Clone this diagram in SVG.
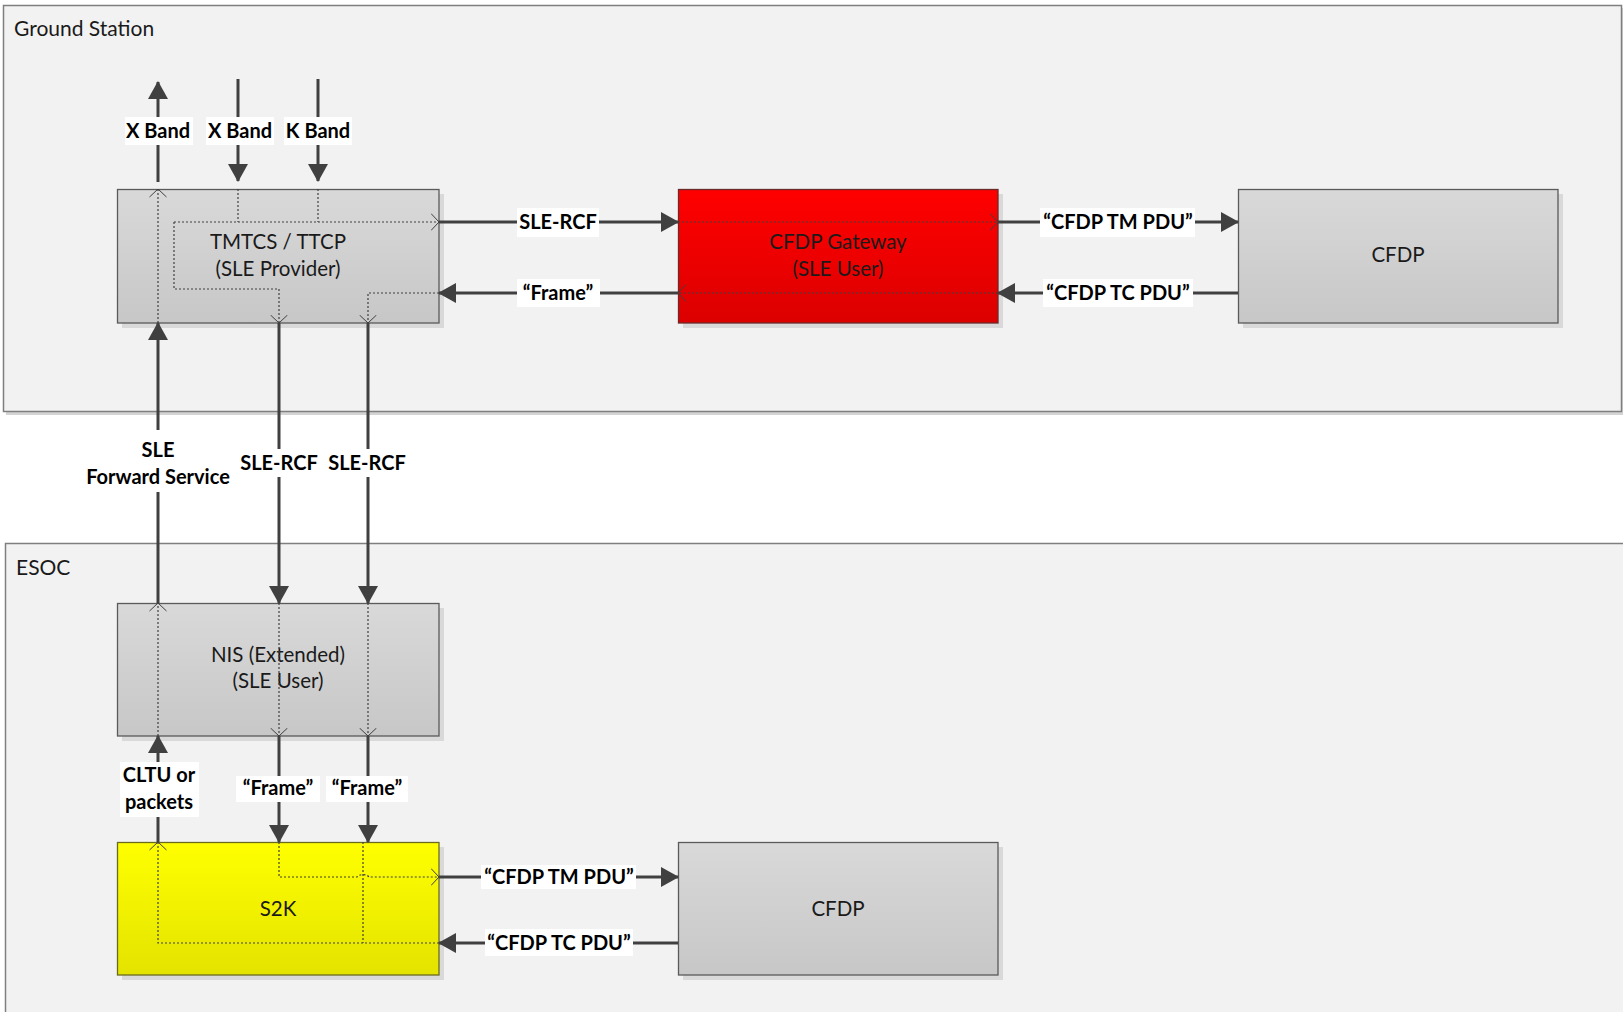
<svg xmlns="http://www.w3.org/2000/svg" width="1623" height="1012" viewBox="0 0 1623 1012">
  <style>
    .zone { fill: #f2f2f2; stroke: #7f7f7f; stroke-width: 1.5; }
    .zone-shadow { fill: #d4d4d4; }
    .zone-label { font-family: Lato, "Liberation Sans", sans-serif; font-size: 21px; fill: #1a1a1a; }
    .shadow { fill: #000; opacity: 0.1; }
    .box-gray { fill: url(#gGray); stroke: #5a5a5a; stroke-width: 1.3; }
    .box-red { fill: url(#gRed); stroke: #6b2a2a; stroke-width: 1.3; }
    .box-yellow { fill: url(#gYellow); stroke: #6b6b20; stroke-width: 1.3; }
    .node-text { font-family: Lato, "Liberation Sans", sans-serif; font-size: 20.5px; fill: #1a1a1a; text-anchor: middle; }
    .link { fill: none; stroke: #404040; stroke-width: 3; marker-end: url(#arrow); }
    .flow { fill: none; stroke: #404040; stroke-width: 1.2; stroke-dasharray: 2 2; }
    .flow-end { marker-end: url(#chevron); }
    .lbl-bg { fill: #ffffff; }
    .lbl { font-family: Lato, "Liberation Sans", sans-serif; font-size: 20px; font-weight: bold; fill: #000; text-anchor: middle; }
  </style>
  <defs>
    <linearGradient id="gGray" x1="0" y1="0" x2="0" y2="1">
      <stop offset="0" stop-color="#d9d9d9"/>
      <stop offset="1" stop-color="#c7c7c7"/>
    </linearGradient>
    <linearGradient id="gRed" x1="0" y1="0" x2="0" y2="1">
      <stop offset="0" stop-color="#ff0000"/>
      <stop offset="1" stop-color="#dc0000"/>
    </linearGradient>
    <linearGradient id="gYellow" x1="0" y1="0" x2="0" y2="1">
      <stop offset="0" stop-color="#ffff00"/>
      <stop offset="1" stop-color="#e3e300"/>
    </linearGradient>
    <!-- filled arrowhead for the solid links -->
    <marker id="arrow" viewBox="0 0 18 20" refX="17" refY="10" markerWidth="18" markerHeight="20" markerUnits="userSpaceOnUse" orient="auto">
      <path d="M0,0 L18,10 L0,20 Z" fill="#404040"/>
    </marker>
    <!-- open chevron for the dotted internal flows -->
    <marker id="chevron" viewBox="0 0 9 18" refX="8.5" refY="9" markerWidth="9" markerHeight="18" markerUnits="userSpaceOnUse" orient="auto">
      <path d="M0.5,0.5 L8.5,9 L0.5,17.5" fill="none" stroke="#404040" stroke-width="1"/>
    </marker>
  </defs>

  <!-- containers -->
  <g id="ground-station">
    <rect class="zone-shadow" x="6" y="8" width="1620" height="407"/>
    <rect class="zone" x="3.5" y="5.5" width="1618" height="406"/>
    <text class="zone-label" x="14" y="36">Ground Station</text>
  </g>
  <g id="esoc">
    <rect class="zone" x="5.5" y="543.5" width="1630" height="480"/>
    <text class="zone-label" x="16" y="575">ESOC</text>
  </g>

  <!-- nodes -->
  <g id="tmtcs">
    <rect class="shadow" x="122" y="194" width="322" height="134"/>
    <rect class="box-gray" x="117.5" y="189.5" width="321.5" height="133.5"/>
    <text class="node-text" x="278" y="249">TMTCS / TTCP</text>
    <text class="node-text" x="278" y="276">(SLE Provider)</text>
  </g>
  <g id="cfdp-gateway">
    <rect class="shadow" x="683" y="194" width="320" height="134"/>
    <rect class="box-red" x="678.5" y="189.5" width="319.5" height="133.5"/>
    <text class="node-text" x="838" y="249">CFDP Gateway</text>
    <text class="node-text" x="838" y="276">(SLE User)</text>
  </g>
  <g id="cfdp-ground">
    <rect class="shadow" x="1243" y="194" width="320" height="134"/>
    <rect class="box-gray" x="1238.5" y="189.5" width="319.5" height="133.5"/>
    <text class="node-text" x="1398" y="262">CFDP</text>
  </g>
  <g id="nis">
    <rect class="shadow" x="122" y="608" width="322" height="133"/>
    <rect class="box-gray" x="117.5" y="603.5" width="321.5" height="132.5"/>
    <text class="node-text" x="278" y="662">NIS (Extended)</text>
    <text class="node-text" x="278" y="688">(SLE User)</text>
  </g>
  <g id="s2k">
    <rect class="shadow" x="122" y="847" width="322" height="133"/>
    <rect class="box-yellow" x="117.5" y="842.5" width="321.5" height="132.5"/>
    <text class="node-text" x="278" y="916">S2K</text>
  </g>
  <g id="cfdp-esoc">
    <rect class="shadow" x="683" y="847" width="320" height="133"/>
    <rect class="box-gray" x="678.5" y="842.5" width="319.5" height="132.5"/>
    <text class="node-text" x="838" y="916">CFDP</text>
  </g>

  <!-- connectors -->
  <g id="connectors">
    <!-- RF links at the antenna side -->
    <path class="link" d="M158,182 V82"/>
    <path class="link" d="M238,79 V181"/>
    <path class="link" d="M318,79 V181"/>

    <!-- ground station horizontal links -->
    <path class="link" d="M439,222 H678"/>
    <path class="link" d="M678,293 H439"/>
    <path class="link" d="M998,222 H1238"/>
    <path class="link" d="M1238,293 H998"/>

    <!-- ground station to ESOC -->
    <path class="link" d="M158,603 V323"/>
    <path class="link" d="M279,323 V603"/>
    <path class="link" d="M368,323 V603"/>

    <!-- NIS to S2K -->
    <path class="link" d="M158,842 V736"/>
    <path class="link" d="M279,736 V842"/>
    <path class="link" d="M368,736 V842"/>

    <!-- S2K to CFDP -->
    <path class="link" d="M439,877 H678"/>
    <path class="link" d="M678,943 H439"/>

    <!-- dotted flows through TMTCS / TTCP -->
    <path class="flow flow-end" d="M158,323 V189"/>
    <path class="flow" d="M238,189 V222 M318,189 V222"/>
    <path class="flow flow-end" d="M174,222 H439"/>
    <path class="flow flow-end" d="M174,222 V289 H279 V323"/>
    <path class="flow flow-end" d="M439,293 H368 V323"/>

    <!-- dotted flows through CFDP Gateway -->
    <path class="flow flow-end" d="M678,222 H998"/>
    <path class="flow flow-end" d="M998,293 H678"/>

    <!-- dotted flows through NIS -->
    <path class="flow flow-end" d="M158,736 V603"/>
    <path class="flow flow-end" d="M279,603 V736"/>
    <path class="flow flow-end" d="M368,603 V736"/>

    <!-- dotted flows through S2K -->
    <path class="flow flow-end" d="M279,842 V877 H357 A7,5 0 0 1 369,877 H439"/>
    <path class="flow" d="M363,842 V943"/>
    <path class="flow flow-end" d="M439,943 H158 V842"/>

    <!-- link labels -->
    <rect class="lbl-bg" x="125" y="117" width="68" height="28"/>
    <text class="lbl" x="158" y="138">X Band</text>
    <rect class="lbl-bg" x="206" y="117" width="68" height="28"/>
    <text class="lbl" x="240" y="138">X Band</text>
    <rect class="lbl-bg" x="284" y="117" width="68" height="28"/>
    <text class="lbl" x="318" y="138">K Band</text>

    <rect class="lbl-bg" x="517" y="208" width="82" height="29"/>
    <text class="lbl" x="558" y="229">SLE-RCF</text>
    <rect class="lbl-bg" x="517" y="279" width="83" height="28"/>
    <text class="lbl" x="558" y="300">“Frame”</text>
    <rect class="lbl-bg" x="1040" y="208" width="155" height="29"/>
    <text class="lbl" x="1118" y="229">“CFDP TM PDU”</text>
    <rect class="lbl-bg" x="1043" y="279" width="150" height="28"/>
    <text class="lbl" x="1118" y="300">“CFDP TC PDU”</text>

    <rect class="lbl-bg" x="80" y="430" width="156" height="62"/>
    <text class="lbl" x="158" y="457">SLE</text>
    <text class="lbl" x="158" y="484">Forward Service</text>
    <rect class="lbl-bg" x="237" y="449" width="84" height="28"/>
    <text class="lbl" x="279" y="470">SLE-RCF</text>
    <rect class="lbl-bg" x="325" y="449" width="84" height="28"/>
    <text class="lbl" x="367" y="470">SLE-RCF</text>

    <rect class="lbl-bg" x="120" y="762" width="79" height="55"/>
    <text class="lbl" x="159" y="782">CLTU or</text>
    <text class="lbl" x="159" y="809">packets</text>
    <rect class="lbl-bg" x="236" y="776" width="84" height="26"/>
    <text class="lbl" x="278" y="795">“Frame”</text>
    <rect class="lbl-bg" x="326" y="776" width="82" height="26"/>
    <text class="lbl" x="367" y="795">“Frame”</text>

    <rect class="lbl-bg" x="481" y="865" width="155" height="24"/>
    <text class="lbl" x="559" y="884">“CFDP TM PDU”</text>
    <rect class="lbl-bg" x="485" y="929" width="148" height="27"/>
    <text class="lbl" x="559" y="950">“CFDP TC PDU”</text>
  </g>
</svg>
